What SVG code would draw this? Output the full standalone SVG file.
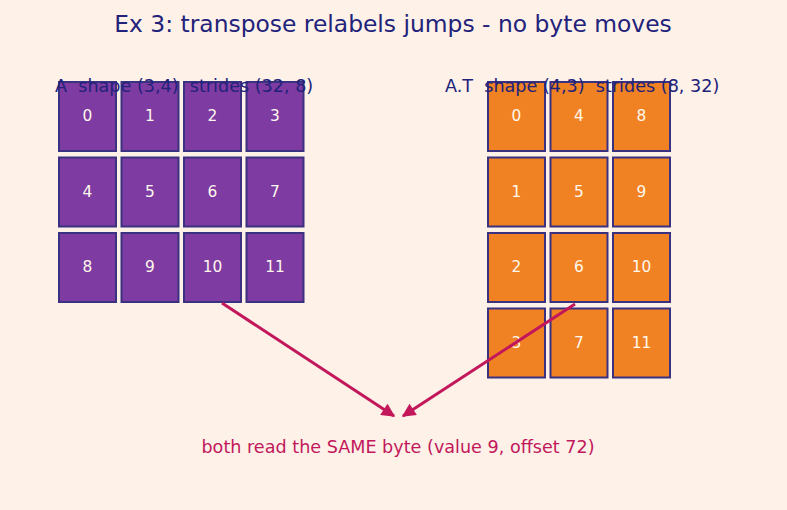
<svg xmlns="http://www.w3.org/2000/svg" width="787" height="510" viewBox="0 0 787 510">
<defs>
<style>
.bg{fill:#fdf1e8}
.a rect{fill:#7e3ba2;stroke:#3a3180;stroke-width:2}
.t rect{fill:#f08223;stroke:#3a3180;stroke-width:2}
.n{font-family:"DejaVu Sans",sans-serif;font-size:15.4px;fill:#fff8ec;text-anchor:middle;dominant-baseline:central}
.lbl{font-family:"DejaVu Sans",sans-serif;font-size:17.6px;fill:#22227a}
.title{font-family:"DejaVu Sans",sans-serif;font-size:23.4px;fill:#22227a;text-anchor:middle}
.note{font-family:"DejaVu Sans",sans-serif;font-size:17.6px;fill:#c2185b;text-anchor:middle}
.conn line{stroke:#c2185b;stroke-width:3;marker-end:url(#ah)}
</style>
<marker id="ah" viewBox="0 0 10 10" refX="9" refY="5" markerWidth="5" markerHeight="4.5" orient="auto" markerUnits="strokeWidth">
<path d="M0,0 L10,5 L0,10 z" fill="#c2185b"/>
</marker>
</defs>
<rect class="bg" x="0" y="0" width="787" height="510"/>
<text class="title" x="393" y="32">Ex 3: transpose relabels jumps - no byte moves</text>

<g id="A" class="a">
<g id="a0"><rect x="59" y="82" width="57" height="69"/><text class="n" x="87.5" y="116">0</text></g>
<g id="a1"><rect x="121.5" y="82" width="57" height="69"/><text class="n" x="150" y="116">1</text></g>
<g id="a2"><rect x="184" y="82" width="57" height="69"/><text class="n" x="212.5" y="116">2</text></g>
<g id="a3"><rect x="246.5" y="82" width="57" height="69"/><text class="n" x="275" y="116">3</text></g>
<g id="a4"><rect x="59" y="157.5" width="57" height="69"/><text class="n" x="87.5" y="191.5">4</text></g>
<g id="a5"><rect x="121.5" y="157.5" width="57" height="69"/><text class="n" x="150" y="191.5">5</text></g>
<g id="a6"><rect x="184" y="157.5" width="57" height="69"/><text class="n" x="212.5" y="191.5">6</text></g>
<g id="a7"><rect x="246.5" y="157.5" width="57" height="69"/><text class="n" x="275" y="191.5">7</text></g>
<g id="a8"><rect x="59" y="233" width="57" height="69"/><text class="n" x="87.5" y="267">8</text></g>
<g id="a9"><rect x="121.5" y="233" width="57" height="69"/><text class="n" x="150" y="267">9</text></g>
<g id="a10"><rect x="184" y="233" width="57" height="69"/><text class="n" x="212.5" y="267">10</text></g>
<g id="a11"><rect x="246.5" y="233" width="57" height="69"/><text class="n" x="275" y="267">11</text></g>
</g>

<g id="AT" class="t">
<g id="t0"><rect x="488" y="82" width="57" height="69"/><text class="n" x="516.5" y="116">0</text></g>
<g id="t4"><rect x="550.5" y="82" width="57" height="69"/><text class="n" x="579" y="116">4</text></g>
<g id="t8"><rect x="613" y="82" width="57" height="69"/><text class="n" x="641.5" y="116">8</text></g>
<g id="t1"><rect x="488" y="157.5" width="57" height="69"/><text class="n" x="516.5" y="191.5">1</text></g>
<g id="t5"><rect x="550.5" y="157.5" width="57" height="69"/><text class="n" x="579" y="191.5">5</text></g>
<g id="t9"><rect x="613" y="157.5" width="57" height="69"/><text class="n" x="641.5" y="191.5">9</text></g>
<g id="t2"><rect x="488" y="233" width="57" height="69"/><text class="n" x="516.5" y="267">2</text></g>
<g id="t6"><rect x="550.5" y="233" width="57" height="69"/><text class="n" x="579" y="267">6</text></g>
<g id="t10"><rect x="613" y="233" width="57" height="69"/><text class="n" x="641.5" y="267">10</text></g>
<g id="t3"><rect x="488" y="308.5" width="57" height="69"/><text class="n" x="516.5" y="342.5">3</text></g>
<g id="t7"><rect x="550.5" y="308.5" width="57" height="69"/><text class="n" x="579" y="342.5">7</text></g>
<g id="t11"><rect x="613" y="308.5" width="57" height="69"/><text class="n" x="641.5" y="342.5">11</text></g>
</g>

<text class="lbl" x="55" y="92" xml:space="preserve">A  shape (3,4)  strides (32, 8)</text>
<text class="lbl" x="445" y="92" xml:space="preserve">A.T  shape (4,3)  strides (8, 32)</text>

<g id="connectors" class="conn">
<line x1="222" y1="303" x2="394" y2="416"/>
<line x1="575" y1="304" x2="403" y2="416"/>
</g>

<text class="note" x="398" y="453">both read the SAME byte (value 9, offset 72)</text>
</svg>
